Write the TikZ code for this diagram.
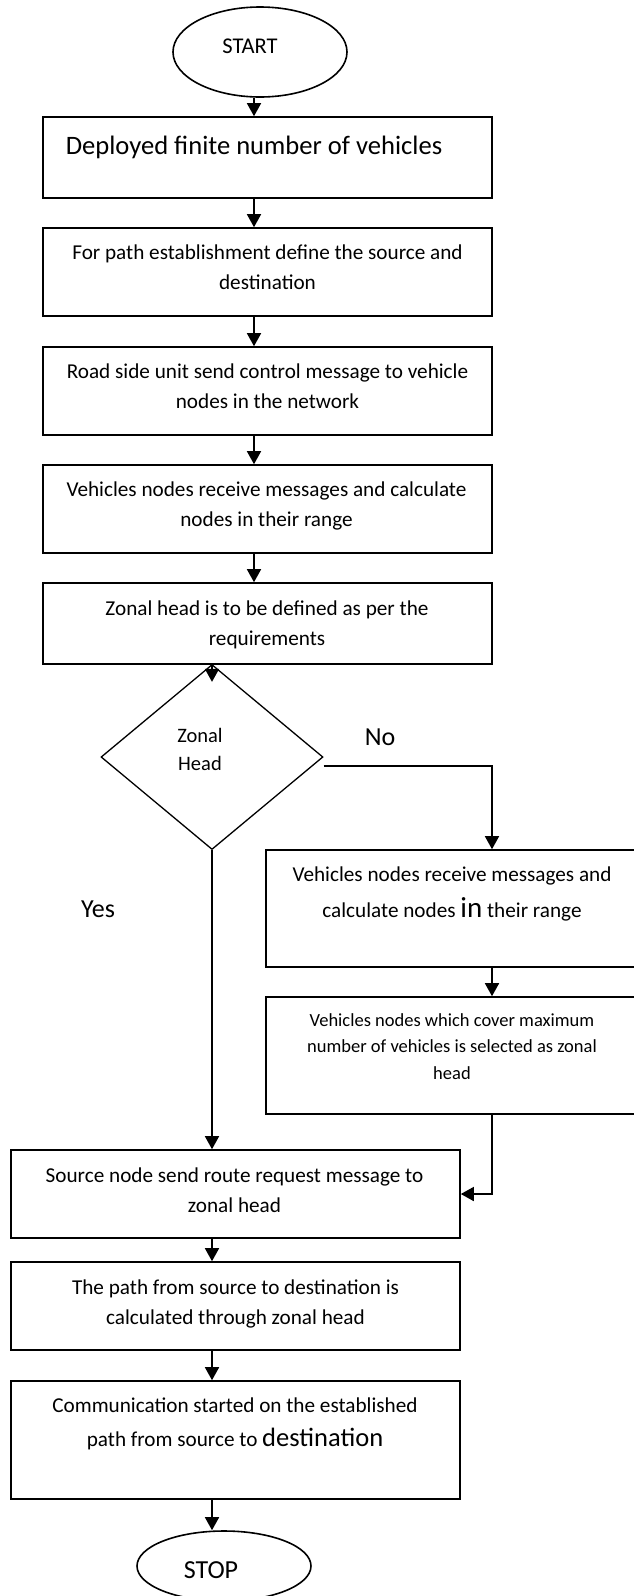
\documentclass[tikz,border=0pt]{standalone}
\usepackage{fontspec}
\setmainfont{Carlito}
\usetikzlibrary{shapes.geometric,arrows.meta}

\begin{document}
\begin{tikzpicture}[x=1pt,y=-1pt,line width=1.6pt,
  proc/.style={draw,rectangle,inner sep=0pt,minimum width=449pt},
  side/.style={draw,rectangle,inner sep=0pt,minimum width=374pt,minimum height=117pt},
  term/.style={draw,ellipse,inner sep=0pt,minimum width=174pt},
  decide/.style={draw,diamond,inner sep=0pt,line width=1.3pt,minimum width=222pt,minimum height=185pt},
  arr/.style={-{Triangle[length=13pt,width=14pt]}},
  txt/.style={anchor=base,align=center,inner sep=0pt,font=\fontsize{21.2}{30}\selectfont}]
        \useasboundingbox (0,0) rectangle (634,1596);
        % columns of the arrows
        \coordinate (lcol) at (254,0);
        \coordinate (mcol) at (212,0);
        \coordinate (rcol) at (492,0);
        % shapes
        \node[term,minimum height=90pt] (start) at (260,52) {};
        \node[proc,minimum height=81pt] (b1) at (267.5,157.5) {};
        \node[proc,minimum height=88pt] (b2) at (267.5,272) {};
        \node[proc,minimum height=88pt] (b3) at (267.5,391) {};
        \node[proc,minimum height=88pt] (b4) at (267.5,509) {};
        \node[proc,minimum height=81pt] (b5) at (267.5,623.5) {};
        \node[decide] (dia) at (212,757) {};
        \node[side] (b6) at (453,908.5) {};
        \node[side] (b7) at (453,1055.5) {};
        \node[proc,minimum height=88pt] (b8) at (235.5,1194) {};
        \node[proc,minimum height=88pt] (b9) at (235.5,1306) {};
        \node[proc,minimum height=118pt] (b10) at (235.5,1440) {};
        \node[term,minimum height=70pt] (stop) at (224,1566) {};
        % texts (base = last line)
        \node[txt,font=\fontsize{22.5}{27}\selectfont] (tstart) at (250,53) {START};
        \node[txt,font=\fontsize{26.6}{32}\selectfont] (t1) at (254,154) {Deployed finite number of vehicles};
        \node[txt] (t2) at (267.5,289) {For path establishment define the source and\\destination};
        \node[txt] (t3) at (267.5,408) {Road side unit send control message to vehicle\\nodes in the network};
        \node[txt] (t4) at (266.5,526) {Vehicles nodes receive messages and calculate\\nodes in their range};
        \node[txt] (t5) at (267,645) {Zonal head is to be defined as per the\\requirements};
        \node[txt,font=\fontsize{20.5}{28}\selectfont] (tz) at (200,770) {Zonal\\Head};
        \node[txt,font=\fontsize{26}{30}\selectfont] (tno) at (380,745) {No};
        \node[txt,font=\fontsize{26}{30}\selectfont] (tyes) at (98,917) {Yes};
        \node[txt,font=\fontsize{21.2}{36}\selectfont] (t6) at (452,917) {Vehicles nodes receive messages and\\calculate nodes {\fontsize{29}{36}\selectfont in} their range};
        \node[txt,font=\fontsize{18.5}{26.5}\selectfont] (t7) at (452,1079) {Vehicles nodes which cover maximum\\number of vehicles is selected as zonal\\head};
        \node[txt] (t8) at (234.5,1212) {Source node send route request message to\\zonal head};
        \node[txt] (t9) at (235.5,1324) {The path from source to destination is\\calculated through zonal head};
        \node[txt,font=\fontsize{21.2}{34}\selectfont] (t10) at (235,1446) {Communication started on the established\\path from source to {\fontsize{26.5}{34}\selectfont destination}};
        \node[txt,font=\fontsize{26}{30}\selectfont] (tstop) at (211,1578) {STOP};
        % arrows
        \draw[arr] (start.south -| lcol) -- (b1.north -| lcol);
        \draw[arr] (b1.south -| lcol) -- (b2.north -| lcol);
        \draw[arr] (b2.south -| lcol) -- (b3.north -| lcol);
        \draw[arr] (b3.south -| lcol) -- (b4.north -| lcol);
        \draw[arr] (b4.south -| lcol) -- (b5.north -| lcol);
        \draw[arr] (b5.south -| mcol) -- ([yshift=-18pt]dia.north);
        \draw[arr] ([yshift=-9pt]dia.east) -| (b6.north -| rcol);
        \draw[arr] (dia.south) -- (b8.north -| mcol);
        \draw[arr] (b6.south -| rcol) -- (b7.north -| rcol);
        \draw[arr] (b7.south -| rcol) |- (b8.east);
        \draw[arr] (b8.south -| mcol) -- (b9.north -| mcol);
        \draw[arr] (b9.south -| mcol) -- (b10.north -| mcol);
        \draw[arr] (b10.south -| mcol) -- (stop.north -| mcol);
\end{tikzpicture}
\end{document}
